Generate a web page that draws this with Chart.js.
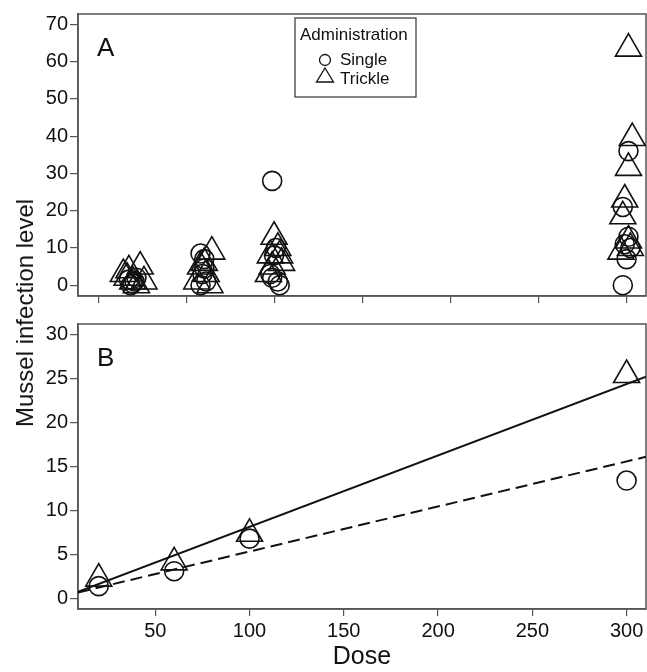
<!DOCTYPE html>
<html>
<head>
<meta charset="utf-8">
<script src="https://cdn.jsdelivr.net/npm/chart.js@4.4.0/dist/chart.umd.min.js"></script>
<style>
  html, body { margin: 0; padding: 0; overflow: hidden; }
  body { background: #fff; width: 647px; height: 672px; position: relative; font-family: "Liberation Sans", Arial, sans-serif; }
  #chart-a { position: absolute; left: 0; top: 0; }
  #chart-b { position: absolute; left: 0; top: 310px; }
  #ytitle { position: absolute; left: 25px; top: 313px; transform: translate(-50%, -50%) rotate(-90deg); font-size: 24px; white-space: nowrap; color: #111; }
</style>
</head>
<body>
<canvas id="chart-a" width="647" height="310"></canvas>
<canvas id="chart-b" width="647" height="362"></canvas>
<div id="ytitle">Mussel infection level</div>
<script>
  // panel A - individual mussels (dose, infection level)
  var singleA = [
    [36, 1.5], [38, 0.5], [40, 2], [37, 0], [39, 1],
    [74, 8.5], [76, 7], [75, 3], [77, 1], [74, 0], [76, 4.5],
    [112, 28], [114, 10], [113, 8], [111, 3], [112, 2], [115, 1], [116, 0],
    [301, 36], [298, 21], [301, 13], [299, 11], [302, 10], [300, 7], [298, 0]
  ];
  var trickleA = [
    [33, 3], [36, 4], [42, 5], [38, 1], [44, 1], [40, 0], [35, 2],
    [80, 9], [74, 5], [77, 3], [72, 1], [79, 0], [76, 6],
    [113, 13], [115, 10], [111, 8], [117, 6], [112, 5], [110, 3], [116, 8],
    [301, 63.5], [303, 39.5], [301, 31.5], [299, 23], [298, 18.5], [301, 12], [297, 9], [302, 10]
  ];

  // panel B - means and fitted lines
  var doseB = [20, 60, 100, 300];
  var singleB = [1.4, 3.1, 6.8, 13.4];
  var trickleB = [2.25, 4.1, 7.35, 25.4];
  var fitDose = [9, 310.3];
  var fitTrickle = [0.74, 25.2];
  var fitSingle = [0.68, 16.1];

  var doseRange = [9, 310.3];
  var levelRangeA = [-2.9, 72.8];
  var levelRangeB = [-1.2, 31.2];
  var doseTicksA = [20, 66.7, 113.3, 160, 206.7, 253.3, 300];
  var doseTicksB = [50, 100, 150, 200, 250, 300];
  var levelTicksA = [0, 10, 20, 30, 40, 50, 60, 70];
  var levelTicksB = [0, 5, 10, 15, 20, 25, 30];

  var ink = "#111";
  var axisGray = "#555";
  var font = "'Liberation Sans', Arial, sans-serif";
  Chart.defaults.font.family = font;
  Chart.defaults.color = ink;

  function toPoints(pairs) {
    return pairs.map(function(p) { return { x: p[0], y: p[1] }; });
  }

  function zipPoints(xs, ys) {
    return xs.map(function(x, i) { return { x: x, y: ys[i] }; });
  }

  function xScale(tickValues, showLabels, height) {
    return {
      type: "linear",
      min: doseRange[0],
      max: doseRange[1],
      afterBuildTicks: function(scale) {
        scale.ticks = tickValues.map(function(v) { return { value: v }; });
      },
      ticks: { display: showLabels, color: ink, font: { size: 20 }, padding: 3, maxRotation: 0, autoSkip: false },
      grid: { drawOnChartArea: false, drawTicks: true, tickLength: 7, color: axisGray, lineWidth: 1.2 },
      border: { display: true, color: axisGray, width: 1.5 },
      afterFit: function(scale) { scale.height = height; }
    };
  }

  function yScale(range, tickValues) {
    return {
      type: "linear",
      min: range[0],
      max: range[1],
      afterBuildTicks: function(scale) {
        scale.ticks = tickValues.map(function(v) { return { value: v }; });
      },
      ticks: { color: ink, font: { size: 20 }, padding: 2, autoSkip: false },
      grid: { drawOnChartArea: false, drawTicks: true, tickLength: 8, color: axisGray, lineWidth: 1.2 },
      border: { display: true, color: axisGray, width: 1.5 },
      afterFit: function(scale) { scale.width = 78; }
    };
  }

  // frame around the plot area plus the panel letter
  var framePlugin = {
    id: "frame",
    beforeDatasetsDraw: function(chart, args, opts) {
      var a = chart.chartArea;
      var ctx = chart.ctx;
      ctx.save();
      ctx.strokeStyle = axisGray;
      ctx.lineWidth = 1.5;
      ctx.strokeRect(a.left, a.top, a.right - a.left, a.bottom - a.top);
      ctx.fillStyle = ink;
      ctx.font = "26px " + font;
      ctx.textBaseline = "middle";
      ctx.fillText(opts.letter, a.left + 19, a.top + 35);
      ctx.restore();
    }
  };

  var legendPlugin = {
    id: "boxLegend",
    afterDraw: function(chart, args, opts) {
      if (!opts.show) return;
      var ctx = chart.ctx;
      ctx.save();
      ctx.strokeStyle = "#333";
      ctx.lineWidth = 1.2;
      ctx.strokeRect(295, 18, 121, 79);
      ctx.fillStyle = ink;
      ctx.font = "17px " + font;
      ctx.textBaseline = "middle";
      ctx.fillText("Administration", 300, 35);
      ctx.fillText("Single", 340, 60);
      ctx.fillText("Trickle", 340, 79);
      ctx.lineWidth = 1.3;
      ctx.strokeStyle = ink;
      ctx.beginPath();
      ctx.arc(325, 60, 5.5, 0, Math.PI * 2);
      ctx.stroke();
      ctx.beginPath();
      ctx.moveTo(325, 68);
      ctx.lineTo(333.5, 82);
      ctx.lineTo(316.5, 82);
      ctx.closePath();
      ctx.stroke();
      ctx.restore();
    }
  };

  function markerSet(label, data, style) {
    return {
      type: "scatter",
      label: label,
      data: data,
      pointStyle: style,
      pointRadius: style === "triangle" ? 15 : 9.5,
      pointHoverRadius: style === "triangle" ? 15 : 9.5,
      backgroundColor: "rgba(0,0,0,0)",
      borderColor: ink,
      borderWidth: 1.6
    };
  }

  new Chart(document.getElementById("chart-a"), {
    type: "scatter",
    data: {
      datasets: [
        markerSet("Single", toPoints(singleA), "circle"),
        markerSet("Trickle", toPoints(trickleA), "triangle")
      ]
    },
    options: {
      responsive: false,
      animation: false,
      layout: { autoPadding: false, padding: { top: 10, right: 1, left: 0, bottom: 0 } },
      scales: {
        x: xScale(doseTicksA, false, 13),
        y: yScale(levelRangeA, levelTicksA)
      },
      plugins: {
        legend: { display: false },
        tooltip: { enabled: false },
        frame: { letter: "A" },
        boxLegend: { show: true }
      }
    },
    plugins: [framePlugin, legendPlugin]
  });

  var bScaleX = xScale(doseTicksB, true, 63);
  bScaleX.title = { display: true, text: "Dose", font: { size: 25 }, color: ink, padding: 0 };

  new Chart(document.getElementById("chart-b"), {
    type: "scatter",
    data: {
      datasets: [
        {
          type: "line",
          label: "Trickle fit",
          data: zipPoints(fitDose, fitTrickle),
          borderColor: ink,
          borderWidth: 2,
          pointRadius: 0,
          fill: false
        },
        {
          type: "line",
          label: "Single fit",
          data: zipPoints(fitDose, fitSingle),
          borderColor: ink,
          borderWidth: 2,
          borderDash: [12, 6],
          pointRadius: 0,
          fill: false
        },
        markerSet("Single", zipPoints(doseB, singleB), "circle"),
        markerSet("Trickle", zipPoints(doseB, trickleB), "triangle")
      ]
    },
    options: {
      responsive: false,
      animation: false,
      layout: { autoPadding: false, padding: { top: 12, right: 1, left: 0, bottom: 0 } },
      scales: {
        x: bScaleX,
        y: yScale(levelRangeB, levelTicksB)
      },
      plugins: {
        legend: { display: false },
        tooltip: { enabled: false },
        frame: { letter: "B" },
        boxLegend: { show: false }
      }
    },
    plugins: [framePlugin, legendPlugin]
  });
</script>
</body>
</html>
